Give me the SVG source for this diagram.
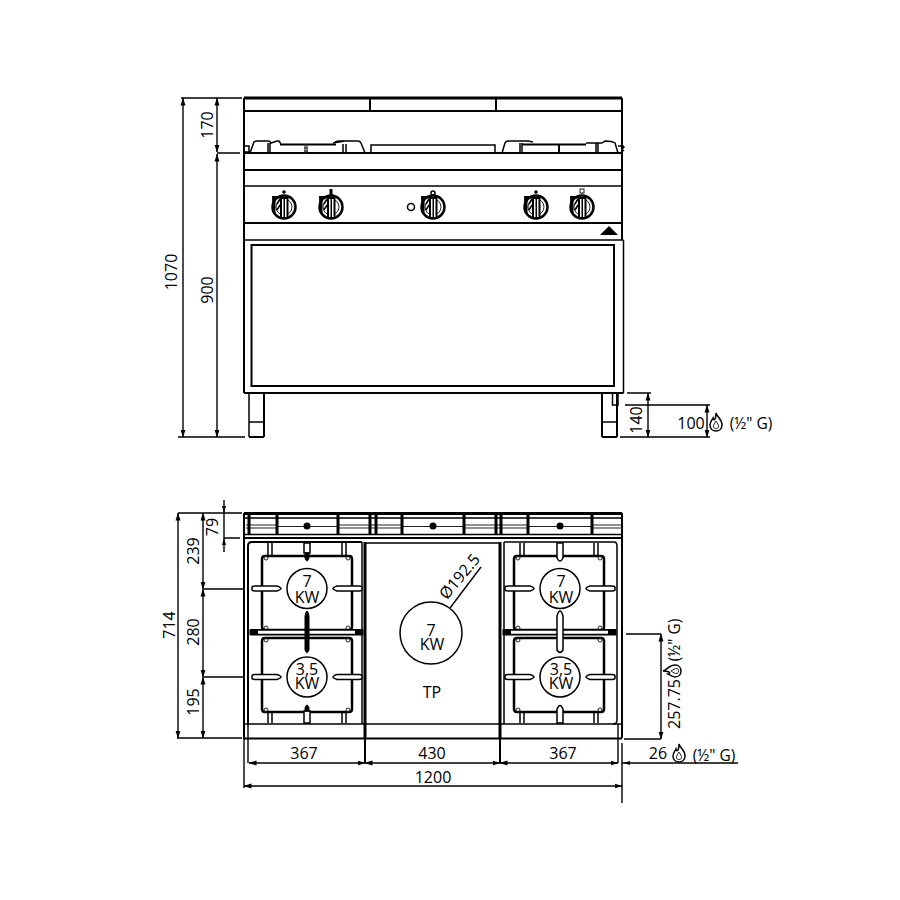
<svg xmlns="http://www.w3.org/2000/svg" xmlns:xlink="http://www.w3.org/1999/xlink" width="900" height="900" viewBox="0 0 900 900">
<style>
.l{fill:none;stroke:#000;stroke-width:1.5}
.m{fill:none;stroke:#000;stroke-width:2}
.g{fill:none;stroke:#000;stroke-width:2.500}
.h{fill:none;stroke:#000;stroke-width:3}
.t{fill:none;stroke:#222;stroke-width:1}
.w{fill:#fff;stroke:#000;stroke-width:1.5}
.k{fill:#000;stroke:#000;stroke-width:1}
.d{fill:none;stroke:#000;stroke-width:1.4}
.da{fill:none;stroke:#000;stroke-width:1.4;marker-start:url(#a);marker-end:url(#a)}
text{font-family:"Open Sans","Noto Sans","Liberation Sans",sans-serif;fill:#000;font-size:16px;text-anchor:middle}
.s{font-size:15.500px}
</style>
<defs>
<marker id="a" viewBox="0 0 8 6" refX="7.500" refY="3" markerWidth="8" markerHeight="6" markerUnits="userSpaceOnUse" orient="auto-start-reverse"><path d="M0 0.500L8 3L0 5.500Z" fill="#000"/></marker>
<g id="flame"><path class="l" d="M0 -10C1 -6 6 -4 6 2C6 6 3 8 0 8C-3 8 -6 6 -6 2C-6 -1 -4 -3 -3 -5C-2.500 -3 -2 -3 -1 -4C0 -6 0 -8 0 -10Z"/><path class="t" d="M0 -2C1 0 3 2 2.500 4C2 6 -2 6 -2.500 4C-3 2 -1 0 0 -2Z"/></g>
<g id="knob">
<circle r="11.500" fill="#fff" stroke="#000" stroke-width="2.500"/>
<circle r="8" class="t"/>
<path d="M-12 -11H-3V-8.500H-8.500V8L-11.500 5Z" fill="#000"/>
<path d="M-7 -3L-4 -8M-7 3L-4 -2" class="l"/>
<path d="M-3 -9H3.500V11H-3Z" fill="#fff" stroke="#000" stroke-width="2"/>
<path d="M0.250 -9V11" stroke="#000" stroke-width="1.500"/>
</g>
<g id="grate-shape">
<path class="g" d="M-45 -34Q-45 -37 -42 -37H42Q45 -37 45 -34V34Q45 37 42 37H-42Q-45 37 -45 34Z"/>
<circle cx="-41" cy="-35" r="2" class="t"/><circle cx="41" cy="-35" r="2" class="t"/><circle cx="-41" cy="35" r="2" class="t"/><circle cx="41" cy="35" r="2" class="t"/>
</g>
<g id="ring">
<path class="w" d="M-55 -1Q-55 -2.500 -52 -2.500H-30Q-26 -1 -26 0Q-26 1 -30 2.500H-52Q-55 2.500 -55 1Z"/>
<path class="w" d="M55 -1Q55 -2.500 52 -2.500H30Q26 -1 26 0Q26 1 30 2.500H52Q55 2.500 55 1Z"/>
<circle r="20" class="w"/>
</g>
</defs>
<g id="connectors">
<path class="d" d="M181 98H242M178 437H245M217 153H240"/>
<path class="da" d="M183 98V437"/>
<path class="da" d="M217 98V152"/>
<path class="da" d="M217 154V437"/>
<path class="d" d="M627 393H651M625 405H710M620 437H710"/>
<path class="da" d="M648 393V437"/>
<path class="da" d="M707 405V437"/>
<path class="d" d="M178 513H242M177 738H242M204 589H245M204 677H245M224 538H240"/>
<path class="da" d="M178 513V738"/>
<path class="da" d="M203 513V589"/>
<path class="da" d="M203 589V677"/>
<path class="da" d="M203 677V738"/>
<path class="d" d="M224 500V552"/>
<path d="M224 513l-2 -7h4zM224 538l-2 7h4z" fill="#000"/>
<path class="d" d="M626 634H661M624 739H661"/>
<path class="da" d="M661 634V739"/>
<path class="d" d="M244 739V788M622 743V803M248 724V763"/>
<path class="m" d="M365 739V763M500 739V763"/>
<path class="d" d="M618 724V763"/>
<path class="da" d="M249 763H365"/>
<path class="da" d="M365 763H500"/>
<path class="da" d="M500 763H618"/>
<path class="d" d="M622 763H738"/>
<path d="M623 763l7 -2v4z" fill="#000"/>
<path class="da" d="M244 786H622"/>
<path class="d" d="M450 608L481 567"/>
</g>
<g id="front-view">
<path class="h" d="M244 98H622"/>
<path class="m" d="M244 98V393M622 98V240M244 111H622M244 153H622M244 170H622M244 223H622M244 393H623.500"/>
<path class="l" d="M244 186H622M244 240H623.500M623.500 240V393"/>
<path class="m" d="M370 98V111M496 98V111"/>
<rect x="251.500" y="245" width="362.500" height="141" class="m"/>
<path class="l" d="M249 393V437M249 422H264"/>
<path class="m" d="M264 393V437M249 437H264"/>
<path class="m" d="M602 393V437M617 393V437M602 437H617"/>
<path class="l" d="M602 422H617M612.500 393V405H618V393"/>
<path d="M600 235L609 226L618 235Z" fill="#000"/>
<circle cx="411" cy="207" r="3.500" class="l"/>
<use xlink:href="#knob" x="284" y="207"/>
<use xlink:href="#knob" x="331" y="207"/>
<use xlink:href="#knob" x="433" y="207"/>
<use xlink:href="#knob" x="536" y="207"/>
<use xlink:href="#knob" x="582" y="207"/>
<circle cx="284" cy="192" r="1.800" fill="#000"/>
<path d="M329.500 189h3v6h-3z" fill="#000"/>
<circle cx="433" cy="193" r="2" class="l"/>
<circle cx="536" cy="192" r="1.800" fill="#000"/>
<rect x="580" y="189" width="4" height="4" class="t"/><path class="t" d="M582 193V197"/>
<path class="l" d="M244 146H249V152H244M250 153L254 142Q255 141 257 141H268Q270 141 271 143L277 141H279L281 144M270 143V153M268 143V153M335 142Q337 141 340 141H358Q360 141 361 143L365 153M343 144V153M346 144V153M333 143L345 141"/>
<path class="m" d="M280 144.500H336"/>
<path class="t" d="M305 144V153M307 144V153M304 148H308M304 151H308"/>
<path class="l" d="M371 153V145H495V153"/>
<path class="l" d="M502 153L505 143Q506 141 508 141H528L533 142M520 143V153M522 143V153M586 143H602L605 141Q612 141 615 143L618 153M596 143V153M598 143V153M618 146H622M622 145L624 147L622 149L624 151"/>
<path class="m" d="M522 144.500H586M559 144V153"/>
</g>
<g id="back-panel">
<path class="h" d="M244 513.500H622"/>
<path class="m" d="M244 513V739M622 513V738M244 538H622M244 738.500H622"/>
<path class="l" d="M244 518H622M244 534.500H622"/>
<path class="t" d="M246 525H278M246 528H278M338 525H402M338 528H402M464 525H528M464 528H528M592 525H622M592 528H622M278 526.500H338M402 526.500H464M528 526.500H592"/>
<path class="h" d="M277 514V534M338 514V534M370 514V534M376 514V534M402 514V534M464 514V534M496 514V534M501 514V534M528 514V534M592 514V534M249 514V534"/>
<circle cx="307" cy="526" r="3.500" fill="#000"/><circle cx="433" cy="526" r="3.500" fill="#000"/><circle cx="560" cy="526" r="3.500" fill="#000"/>
</g>
<g id="griddle-tp">
<path class="h" d="M365 542V739M500 542V739"/>
<path class="l" d="M365 543H500M244 724H622"/>
<circle cx="431" cy="633" r="31" fill="#fff" stroke="#000" stroke-width="1.500"/>
<text x="431" y="636">7</text>
<text x="432" y="650">KW</text>
<text x="432" y="698">TP</text>
<text x="460" y="577" transform="rotate(-50 460 577)" dy="5">Ø192.5</text>
</g>
<g id="burners-left">
<path class="m" d="M248 724V546Q248 542 252 542H362"/>
<path class="l" d="M362 542V724"/>
<use xlink:href="#grate-shape" x="307" y="593"/>
<use xlink:href="#grate-shape" x="307" y="675"/>
<path class="k" d="M250 629.500H363V635H250Z"/>
<path d="M258 630.800H355V633.700H258Z" fill="#fff"/>
<path class="k" d="M305 616Q307 606 309 616V650Q307 655 305 650Z"/>
<path class="w" d="M304 543H310V553H304Z"/><path class="k" d="M305 553H309V558Q307 564 305 558Z"/>
<path class="w" d="M304 723H310V711H304Z"/><path class="k" d="M305 711H309V708Q307 702 305 708Z"/>
<path class="l" d="M268 543V555M272 543V555M342 543V555M346 543V555M268 711V723M272 711V723M342 711V723M346 711V723"/>
<use xlink:href="#ring" x="307" y="588.500"/>
<use xlink:href="#ring" x="307" y="677"/>
</g>
<g id="burners-right">
<path class="l" d="M504 542H614Q617 542 617 546V720Q617 724 613 724M504 542V724"/>
<use xlink:href="#grate-shape" x="559" y="593"/>
<use xlink:href="#grate-shape" x="559" y="675"/>
<path class="k" d="M503 629.500H616V635H503Z"/>
<path d="M511 630.800H608V633.700H511Z" fill="#fff"/>
<path class="w" d="M557 616Q560 606 563 616V650Q560 655 557 650Z"/>
<path class="w" d="M557 543H563V558Q560 564 557 558Z"/>
<path class="w" d="M557 723H563V709Q560 702 557 709Z"/>
<path class="l" d="M520 543V555M524 543V555M594 543V555M598 543V555M520 711V723M524 711V723M594 711V723M598 711V723"/>
<use xlink:href="#ring" x="560" y="588.500"/>
<use xlink:href="#ring" x="560" y="677"/>
</g>
<g id="labels">
<text x="208" y="125" transform="rotate(-90 208 125)" dy="5">170</text>
<text x="172" y="272" transform="rotate(-90 172 272)" dy="5">1070</text>
<text x="208" y="290" transform="rotate(-90 208 290)" dy="5">900</text>
<text x="637" y="420" transform="rotate(-90 637 420)" dy="5">140</text>
<text x="691" y="429">100</text>
<use xlink:href="#flame" x="716" y="423"/>
<text x="751" y="429" class="s">(½" G)</text>
<text x="213" y="527" transform="rotate(-90 213 527)" dy="5">79</text>
<text x="194" y="551" transform="rotate(-90 194 551)" dy="5">239</text>
<text x="194" y="632" transform="rotate(-90 194 632)" dy="5">280</text>
<text x="194" y="702" transform="rotate(-90 194 702)" dy="5">195</text>
<text x="170" y="625" transform="rotate(-90 170 625)" dy="5">714</text>
<text x="307" y="587">7</text><text x="307" y="603">KW</text>
<text x="307" y="675">3,5</text><text x="307" y="689">KW</text>
<text x="561" y="587">7</text><text x="561" y="603">KW</text>
<text x="561" y="675">3,5</text><text x="561" y="689">KW</text>
<text x="304" y="759">367</text>
<text x="432" y="759">430</text>
<text x="563" y="759">367</text>
<text x="433" y="783">1200</text>
<text x="658" y="759">26</text>
<use xlink:href="#flame" x="679" y="754"/>
<text x="714" y="761" class="s">(½" G)</text>
<text x="675" y="704" transform="rotate(-90 675 704)" dy="5">257.75</text>
<use xlink:href="#flame" transform="translate(673 671) rotate(-90)"/>
<text x="675" y="640" transform="rotate(-90 675 640)" dy="5" class="s">(½" G)</text>
</g>
</svg>
